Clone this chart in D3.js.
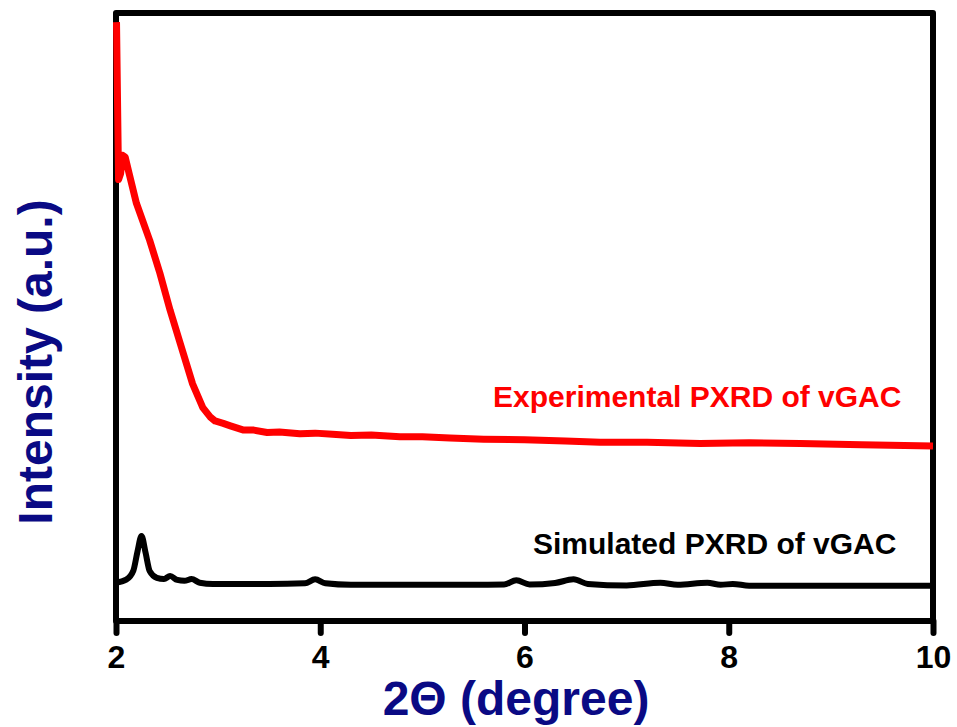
<!DOCTYPE html>
<html>
<head>
<meta charset="utf-8">
<script src="https://cdn.jsdelivr.net/npm/d3@7"></script>
<style>
  body { margin: 0; background: #fff; }
  text { font-family: Arial, "Liberation Sans", sans-serif; font-weight: bold; }
</style>
</head>
<body>
<div id="chart"></div>
<script>
// 2-theta (degree) / intensity (a.u.)
const expTheta = [2.005, 2.025, 2.045, 2.065, 2.09, 2.13, 2.2, 2.33, 2.43, 2.53, 2.63, 2.75, 2.85, 2.92, 2.97, 3.05, 3.12, 3.25, 3.35, 3.48, 3.6, 3.8, 3.95, 4.12, 4.3, 4.5, 4.78, 5.0, 5.27, 5.6, 6.0, 6.4, 6.74, 7.2, 7.72, 8.2, 8.7, 9.3, 10.0];
const expInt   = [98.5, 72.6, 73.6, 76.6, 76.3, 73.5, 68.7, 62.6, 57.2, 51.1, 45.6, 39.0, 35.1, 33.6, 32.9, 32.5, 32.1, 31.4, 31.4, 31.0, 31.1, 30.8, 30.9, 30.7, 30.5, 30.6, 30.3, 30.3, 30.1, 29.9, 29.8, 29.6, 29.4, 29.4, 29.2, 29.3, 29.2, 29.0, 28.8];

const simTheta = [2.0, 2.1, 2.17, 2.21, 2.25, 2.29, 2.33, 2.4, 2.47, 2.53, 2.6, 2.67, 2.74, 2.82, 2.95, 3.5, 3.85, 3.95, 4.05, 4.3, 5.0, 5.8, 5.92, 6.05, 6.3, 6.48, 6.62, 7.0, 7.33, 7.5, 7.79, 7.92, 8.04, 8.2, 10.0];
const simInt   = [6.3, 6.8, 8.3, 11.4, 14.0, 11.2, 8.2, 7.1, 6.9, 7.4, 6.75, 6.6, 6.9, 6.3, 6.1, 6.1, 6.2, 6.85, 6.2, 5.95, 5.95, 6.0, 6.7, 6.0, 6.25, 6.85, 6.1, 5.85, 6.3, 5.95, 6.3, 5.95, 6.1, 5.8, 5.8];

const xTicks = [2, 4, 6, 8, 10];

const labels = {
  exp: "Experimental PXRD of vGAC",
  sim: "Simulated PXRD of vGAC",
  x: "2\u0398 (degree)",
  y: "Intensity (a.u.)"
};

const width = 957, height = 727;
const margin = { top: 13, right: 24, bottom: 106, left: 116 };
const navy = "#0a0a84";

const svg = d3.select("#chart").append("svg")
  .attr("width", width)
  .attr("height", height);

const x = d3.scaleLinear().domain([2, 10]).range([margin.left, width - margin.right]);
const y = d3.scaleLinear().domain([0, 100]).range([height - margin.bottom, margin.top]);

// frame
svg.append("rect")
  .attr("x", x(2)).attr("y", y(100))
  .attr("width", x(10) - x(2)).attr("height", y(0) - y(100))
  .attr("fill", "none").attr("stroke", "#000")
  .attr("stroke-width", 6).attr("stroke-linejoin", "round");

const xAxis = svg.append("g")
  .attr("transform", `translate(0,${y(0)})`)
  .call(d3.axisBottom(x).tickValues(xTicks).tickSize(12).tickSizeOuter(0).tickFormat(d3.format("d")));
xAxis.select(".domain").remove();
xAxis.selectAll(".tick line")
  .attr("stroke", "#000").attr("stroke-width", 6).attr("stroke-linecap", "round");
xAxis.selectAll(".tick text")
  .attr("y", 47).attr("dy", 0)
  .attr("fill", "#000")
  .style("font-size", "32px");

const simLine = d3.line().curve(d3.curveMonotoneX)
  .x(d => x(d[0])).y(d => y(d[1]));
const expLine = d3.line()
  .x(d => x(d[0])).y(d => y(d[1]));

svg.append("path")
  .datum(simTheta.map((t, i) => [t, simInt[i]]))
  .attr("fill", "none").attr("stroke", "#000")
  .attr("stroke-width", 6).attr("stroke-linejoin", "round")
  .attr("d", simLine);

svg.append("path")
  .datum(expTheta.map((t, i) => [t, expInt[i]]))
  .attr("fill", "none").attr("stroke", "#ff0000")
  .attr("stroke-width", 7).attr("stroke-linejoin", "round")
  .attr("d", expLine);

svg.append("text")
  .attr("x", 493).attr("y", 407)
  .attr("fill", "#ff0000")
  .style("font-size", "30px")
  .text(labels.exp);

svg.append("text")
  .attr("x", 533).attr("y", 554)
  .attr("fill", "#000")
  .style("font-size", "30px")
  .text(labels.sim);

svg.append("text")
  .attr("x", 516).attr("y", 715)
  .attr("text-anchor", "middle")
  .attr("fill", navy)
  .style("font-size", "48px")
  .text(labels.x);

svg.append("text")
  .attr("transform", "translate(52,362) rotate(-90)")
  .attr("text-anchor", "middle")
  .attr("fill", navy)
  .style("font-size", "48px")
  .text(labels.y);
</script>
</body>
</html>
